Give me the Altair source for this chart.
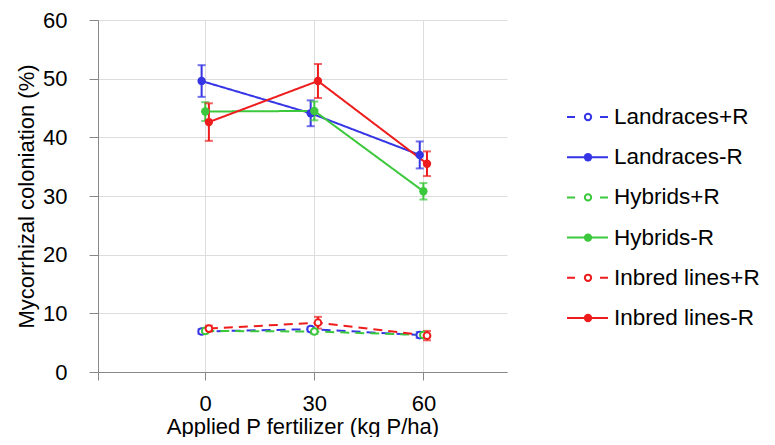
import altair as alt
import pandas as pd

# ---- data ----
P_levels = [0, 30, 60]
series_names = ["Landraces+R", "Landraces-R", "Hybrids+R", "Hybrids-R",
                "Inbred lines+R", "Inbred lines-R"]
landraces_plus = [6.9, 7.3, 6.3]
landraces_plus_err = [0.4, 0.4, 0.5]
landraces_minus = [49.6, 44.1, 37.0]
landraces_minus_err = [2.7, 2.2, 2.3]
hybrids_plus = [7.0, 6.9, 6.3]
hybrids_plus_err = [0.4, 0.4, 0.4]
hybrids_minus = [44.4, 44.5, 30.8]
hybrids_minus_err = [1.6, 1.6, 1.4]
inbred_plus = [7.4, 8.4, 6.2]
inbred_plus_err = [0.5, 1.0, 0.8]
inbred_minus = [42.6, 49.6, 35.5]
inbred_minus_err = [3.2, 2.9, 2.1]

colors = ["#3535e6", "#3535e6", "#3cc83c", "#3cc83c", "#ee1c1c", "#ee1c1c"]
dodge = {"Landraces": -1.0, "Hybrids": 0.0, "Inbred lines": 1.0}

values = [landraces_plus, landraces_minus, hybrids_plus, hybrids_minus,
          inbred_plus, inbred_minus]
errors = [landraces_plus_err, landraces_minus_err, hybrids_plus_err,
          hybrids_minus_err, inbred_plus_err, inbred_minus_err]

rows = []
for i, (name, vals, errs) in enumerate(zip(series_names, values, errors)):
    group = name[:-2]
    style = name[-2:]
    for p, v, e in zip(P_levels, vals, errs):
        rows.append({"series": name, "style": style, "order": i,
                     "P": p, "xp": p + dodge[group],
                     "value": v, "lo": v - e, "hi": v + e})
df = pd.DataFrame(rows)
leg = pd.DataFrame({"series": series_names,
                    "style": [s[-2:] for s in series_names]})

FONT = "Liberation Sans"
color_scale = alt.Scale(domain=series_names, range=colors)
dash_scale = alt.Scale(domain=["+R", "-R"], range=[[9, 6], [1, 0]])
no_view = alt.ViewBackground(stroke="transparent", strokeWidth=0)

x_enc = alt.X("xp:Q", scale=alt.Scale(domain=[-29.5, 83], nice=False, zero=False),
              axis=alt.Axis(values=[-29.5, 0, 30, 60],
                            labelExpr="datum.value < 0 ? '' : datum.label",
                            title="Applied P fertilizer (kg P/ha)",
                            tickSize=8, labelPadding=13, titlePadding=2,
                            labelFontSize=22, titleFontSize=22,
                            titleFontWeight="normal", titleFont=FONT,
                            labelFont=FONT))
y_scale = alt.Scale(domain=[0, 60], nice=False)
y_axis = alt.Axis(values=[0, 10, 20, 30, 40, 50, 60],
                  title="Mycorrhizal coloniation (%)",
                  tickSize=9, labelPadding=22, titlePadding=4,
                  labelFontSize=22, titleFontSize=22,
                  titleFontWeight="normal", titleFont=FONT, labelFont=FONT)

base = alt.Chart(df)
col = alt.Color("series:N", scale=color_scale, legend=None)

lines = base.mark_line(strokeWidth=2).encode(
    x=x_enc,
    y=alt.Y("value:Q", scale=y_scale, axis=y_axis),
    color=col,
    detail="series:N",
    strokeDash=alt.StrokeDash("style:N", scale=dash_scale, legend=None),
    order="P:Q",
)
bars = base.mark_rule(strokeWidth=2).encode(
    x="xp:Q", y="lo:Q", y2="hi:Q", color=col)
cap_lo = base.mark_tick(orient="horizontal", size=8, thickness=2).encode(
    x="xp:Q", y="lo:Q", color=col)
cap_hi = base.mark_tick(orient="horizontal", size=8, thickness=2).encode(
    x="xp:Q", y="hi:Q", color=col)
pts_filled = base.transform_filter("datum.style == '-R'").mark_circle(
    size=70, opacity=1).encode(x="xp:Q", y="value:Q", color=col)
pts_open = base.transform_filter("datum.style == '+R'").mark_point(
    size=45, filled=False, fill="white", strokeWidth=2, opacity=1).encode(
    x="xp:Q", y="value:Q", color=col)

main = alt.layer(lines, bars, cap_lo, cap_hi, pts_open, pts_filled).properties(
    width=409, height=352, view=no_view)

# ---- hand-made legend panel ----
ly = alt.Y("series:N", sort=series_names,
           scale=alt.Scale(type="point", range=[97, 298], padding=0),
           axis=None)
lbase = alt.Chart(leg)
leg_line = lbase.mark_rule(strokeWidth=2).encode(
    x=alt.value(60), x2=alt.value(101), y=ly,
    color=alt.Color("series:N", scale=color_scale, legend=None),
    strokeDash=alt.StrokeDash("style:N",
                              scale=alt.Scale(domain=["+R", "-R"],
                                              range=[[8, 25], [1, 0]]),
                              legend=None))
leg_pf = lbase.transform_filter("datum.style == '-R'").mark_circle(
    size=70, opacity=1).encode(
    x=alt.value(81), y=ly,
    color=alt.Color("series:N", scale=color_scale, legend=None))
leg_po = lbase.transform_filter("datum.style == '+R'").mark_point(
    size=40, filled=False, fill="white", strokeWidth=2, opacity=1).encode(
    x=alt.value(81), y=ly,
    color=alt.Color("series:N", scale=color_scale, legend=None))
leg_txt = lbase.mark_text(align="left", baseline="middle", fontSize=22.5,
                          font=FONT, color="black").encode(
    x=alt.value(107), y=ly, text="series:N")
legend_panel = alt.layer(leg_line, leg_pf, leg_po, leg_txt).properties(
    width=250, height=352, view=no_view)

chart = alt.hconcat(main, legend_panel, spacing=0).resolve_scale(
    color="independent", strokeDash="independent"
).properties(
    padding={"left": 7, "top": 1, "right": 0, "bottom": 0}
).configure_view(strokeWidth=0, stroke="transparent").configure_axis(
    grid=False, domainColor="black", tickColor="black", domainWidth=2,
    tickWidth=2, labelColor="black", titleColor="black", labelFont=FONT,
    titleFont=FONT, titleFontWeight="normal"
).configure(font=FONT)

chart.save("out.html", embed_options={"renderer": "svg", "actions": False})
